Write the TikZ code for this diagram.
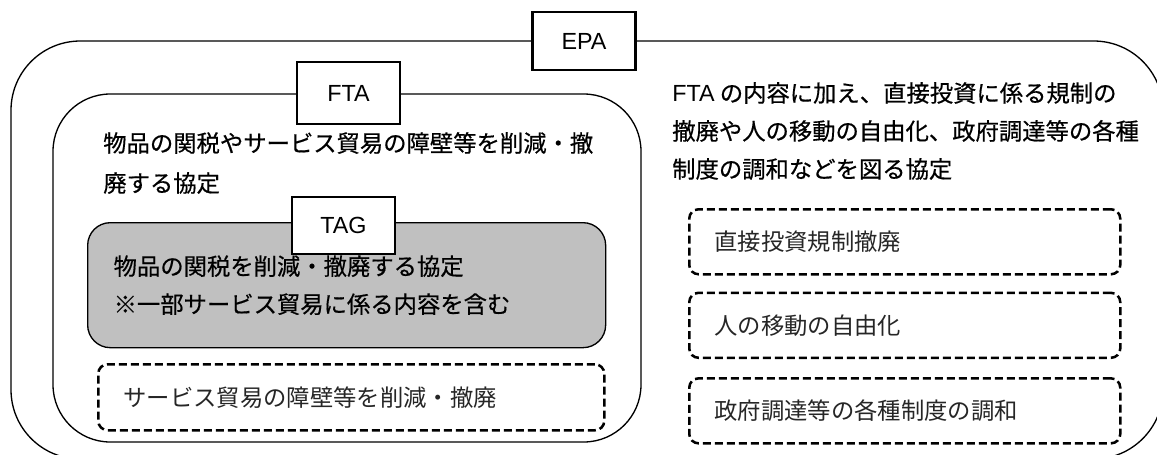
\documentclass[tikz,border=0pt]{standalone}
\usepackage{fontspec}
\setmainfont{Liberation Sans}
\newfontfamily\jp{Noto Sans CJK JP}[FakeBold=0.5]
\newfontfamily\jplight{Noto Sans CJK JP}
\usetikzlibrary{positioning}
\definecolor{tagfill}{HTML}{C0C0C0}

\begin{document}
\begin{tikzpicture}
    [x=0.75pt, y=-0.75pt, font=\fontsize{17.5}{28.5}\selectfont\jp,
    % STYLES
    % The frame style is used to draw the scope of each agreement
    frame/.style={draw, line width=1pt, rounded corners=#1},
    % The abbr style is used to draw the agreements' name
    abbr/.style={rectangle, draw, fill=white, line width=1.8pt, minimum width=77.5pt, minimum height=43.5pt, inner sep=0pt, font=\fontsize{17.5}{21}\selectfont\rmfamily},
    % The desc style is used to describe each agreement
    desc/.style={anchor=west, inner sep=0pt, align=left},
    % The goods style is used for the grey TAG area
    goods/.style={rectangle, draw, fill=tagfill, line width=1pt, rounded corners=17pt, anchor=north west, minimum width=388.5pt, minimum height=93.75pt, text width=349.5pt, inner xsep=19.5pt, align=left},
    % The item style is used for the contents in dashed boxes
    item/.style={rectangle, draw, dash pattern=on 6pt off 3pt, line width=1.9pt, rounded corners=7pt, anchor=north west, inner xsep=19pt, inner ysep=0pt, text width=285.25pt, minimum height=48.75pt, align=left, text=black!85, font=\fontsize{17.5}{21}\selectfont\jplight}]

    \useasboundingbox (0,0) rectangle (1157,454);
    \clip (0,0) rectangle (1157,454);

    % Draw frames
    \draw[frame=52pt] (11,41) rectangle (1163,459);
    \draw[frame=43pt] (53,94) rectangle (641,442);
    \node [abbr] (epa) at (584,41) {EPA};
    \node [abbr, minimum height=46.5pt] (fta) at (348.5,93) {FTA};

    % Draw descriptions
    \node [desc, font=\fontsize{17.5}{30}\selectfont\jp] (ftatext) at (103,163) {物品の関税やサービス貿易の障壁等を削減・撤\\廃する協定};
    \node [desc] (epatext) at (672,131) {{\rmfamily FTA} の内容に加え、直接投資に係る規制の\\撤廃や人の移動の自由化、政府調達等の各種\\制度の調和などを図る協定};

    % Draw TAG
    \node [goods] (tagbox) at (87,222) {物品の関税を削減・撤廃する協定\\※一部サービス貿易に係る内容を含む};
    \node [abbr, minimum height=42.75pt] (tag) at (343.5,225.5) {TAG};

    % Draw contents
    \node [item, text width=341.5pt, minimum height=49.5pt] (service) at (97,363) {サービス貿易の障壁等を削減・撤廃};
    \node [item] (invest) at (688,208) {直接投資規制撤廃};
    \node [item, below=12pt of invest] (people) {人の移動の自由化};
    \node [item, below=13.5pt of people] (procure) {政府調達等の各種制度の調和};
\end{tikzpicture}
\end{document}
